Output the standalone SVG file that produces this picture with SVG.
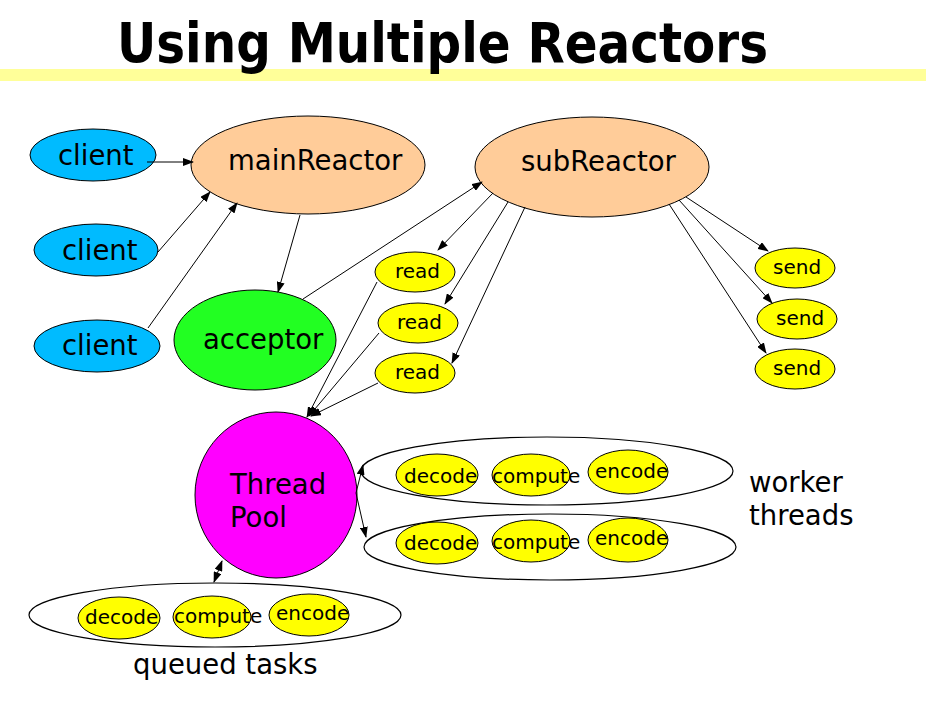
<svg xmlns="http://www.w3.org/2000/svg" width="936" height="713" viewBox="0 0 936 713">
<defs>
<marker id="ah" markerWidth="11" markerHeight="8" refX="10" refY="4" orient="auto" markerUnits="userSpaceOnUse">
<path d="M0,0 L11,4 L0,8 Z" fill="#000"/>
</marker>
<marker id="ahs" markerWidth="11" markerHeight="8" refX="1" refY="4" orient="auto" markerUnits="userSpaceOnUse">
<path d="M11,0 L0,4 L11,8 Z" fill="#000"/>
</marker>
</defs>
<style>
text{font-family:"DejaVu Sans","Liberation Sans",sans-serif;fill:#000}
.big{font-size:27.5px}
.sm{font-size:20px}
.node{stroke:#000;stroke-width:1}
.cl{fill:#00BBFF}
.re{fill:#FFCC99}
.ac{fill:#22FF22}
.ye{fill:#FFFF00}
.tp{fill:#FF00FF}
.grp{fill:none;stroke:#000;stroke-width:1.2}
.edge{stroke:#000;stroke-width:1;fill:none;marker-end:url(#ah)}
</style>
<rect x="0" y="69" width="926" height="12" fill="#FFFF99"/>
<text x="117" y="62" font-family="DejaVu Sans Condensed, DejaVu Sans, sans-serif" font-weight="bold" font-size="56" textLength="651" lengthAdjust="spacingAndGlyphs">Using Multiple Reactors</text>

<g id="client1"><ellipse class="node cl" cx="93" cy="155" rx="63" ry="26"/><text class="big" x="58" y="165" font-size="26">client</text></g>
<g id="client2"><ellipse class="node cl" cx="96" cy="250" rx="62" ry="26"/><text class="big" x="62" y="260">client</text></g>
<g id="client3"><ellipse class="node cl" cx="97" cy="346" rx="63" ry="26"/><text class="big" x="62" y="355">client</text></g>
<g id="mainReactor"><ellipse class="node re" cx="308" cy="165" rx="117" ry="49"/><text class="big" x="228" y="170">mainReactor</text></g>
<g id="subReactor"><ellipse class="node re" cx="592" cy="167" rx="117" ry="50"/><text class="big" x="521" y="171">subReactor</text></g>
<g id="acceptor"><ellipse class="node ac" cx="255" cy="340" rx="81" ry="50"/><text class="big" x="203" y="349">acceptor</text></g>
<g id="read1"><ellipse class="node ye" cx="415" cy="272" rx="40" ry="20"/><text class="sm" x="395" y="278">read</text></g>
<g id="read2"><ellipse class="node ye" cx="418" cy="323" rx="40" ry="20"/><text class="sm" x="397" y="329">read</text></g>
<g id="read3"><ellipse class="node ye" cx="415" cy="373" rx="40" ry="20"/><text class="sm" x="395" y="379">read</text></g>
<g id="send1"><ellipse class="node ye" cx="795" cy="268" rx="40" ry="20"/><text class="sm" x="773" y="274">send</text></g>
<g id="send2"><ellipse class="node ye" cx="797" cy="319" rx="40" ry="20"/><text class="sm" x="776" y="325">send</text></g>
<g id="send3"><ellipse class="node ye" cx="795" cy="369" rx="40" ry="20"/><text class="sm" x="773" y="375">send</text></g>
<g id="threadPool"><ellipse class="node tp" cx="276" cy="495" rx="81" ry="83"/><text class="big" x="230" y="494">Thread</text><text class="big" x="230" y="527">Pool</text></g>

<g id="workers1"><ellipse class="grp" cx="547" cy="471" rx="186" ry="34"/>
<ellipse class="node ye" cx="437" cy="475" rx="41" ry="21"/><text class="sm" x="404" y="483">decode</text>
<ellipse class="node ye" cx="531" cy="475" rx="39" ry="21"/><text class="sm" x="492" y="483">compute</text>
<ellipse class="node ye" cx="628" cy="472" rx="40" ry="22"/><text class="sm" x="595" y="478">encode</text></g>
<g id="workers2"><ellipse class="grp" cx="550" cy="547" rx="186" ry="33"/>
<ellipse class="node ye" cx="437" cy="543" rx="41" ry="21"/><text class="sm" x="404" y="550">decode</text>
<ellipse class="node ye" cx="531" cy="541" rx="39" ry="21"/><text class="sm" x="492" y="549">compute</text>
<ellipse class="node ye" cx="628" cy="540" rx="40" ry="22"/><text class="sm" x="595" y="545">encode</text></g>
<g id="queued"><ellipse class="grp" cx="215" cy="615" rx="186" ry="32"/>
<ellipse class="node ye" cx="119" cy="618" rx="41" ry="21"/><text class="sm" x="85" y="624">decode</text>
<ellipse class="node ye" cx="212" cy="617" rx="39" ry="21"/><text class="sm" x="174" y="623">compute</text>
<ellipse class="node ye" cx="309" cy="615" rx="40" ry="21"/><text class="sm" x="276" y="620">encode</text></g>
<g id="labels"><text class="big" x="749" y="492" font-size="27">worker</text><text class="big" x="749" y="525" font-size="27">threads</text><text class="big" x="133" y="674" font-size="27">queued tasks</text></g>

<g id="connectors">
<line class="edge" x1="147" y1="162" x2="193" y2="162"/>
<line class="edge" x1="158" y1="252" x2="210" y2="192"/>
<line class="edge" x1="148" y1="328" x2="237" y2="203"/>
<line class="edge" x1="300" y1="215" x2="278" y2="292"/>
<line class="edge" x1="303" y1="299" x2="482" y2="182"/>
<line class="edge" x1="493" y1="193" x2="438" y2="250"/>
<line class="edge" x1="508" y1="202" x2="445" y2="304"/>
<line class="edge" x1="525" y1="207" x2="452" y2="363"/>
<line class="edge" x1="686" y1="197" x2="768" y2="251"/>
<line class="edge" x1="679" y1="200" x2="772" y2="303"/>
<line class="edge" x1="669" y1="204" x2="766" y2="353"/>
<line class="edge" x1="377" y1="282" x2="307" y2="417"/>
<line class="edge" x1="379" y1="333" x2="309" y2="416"/>
<line class="edge" x1="378" y1="383" x2="311" y2="416"/>
<line class="edge" x1="356" y1="493" x2="363" y2="465"/>
<line class="edge" x1="356" y1="493" x2="366" y2="537"/>
<line class="edge" x1="214" y1="582" x2="222" y2="561" marker-start="url(#ahs)"/>
</g>
</svg>
